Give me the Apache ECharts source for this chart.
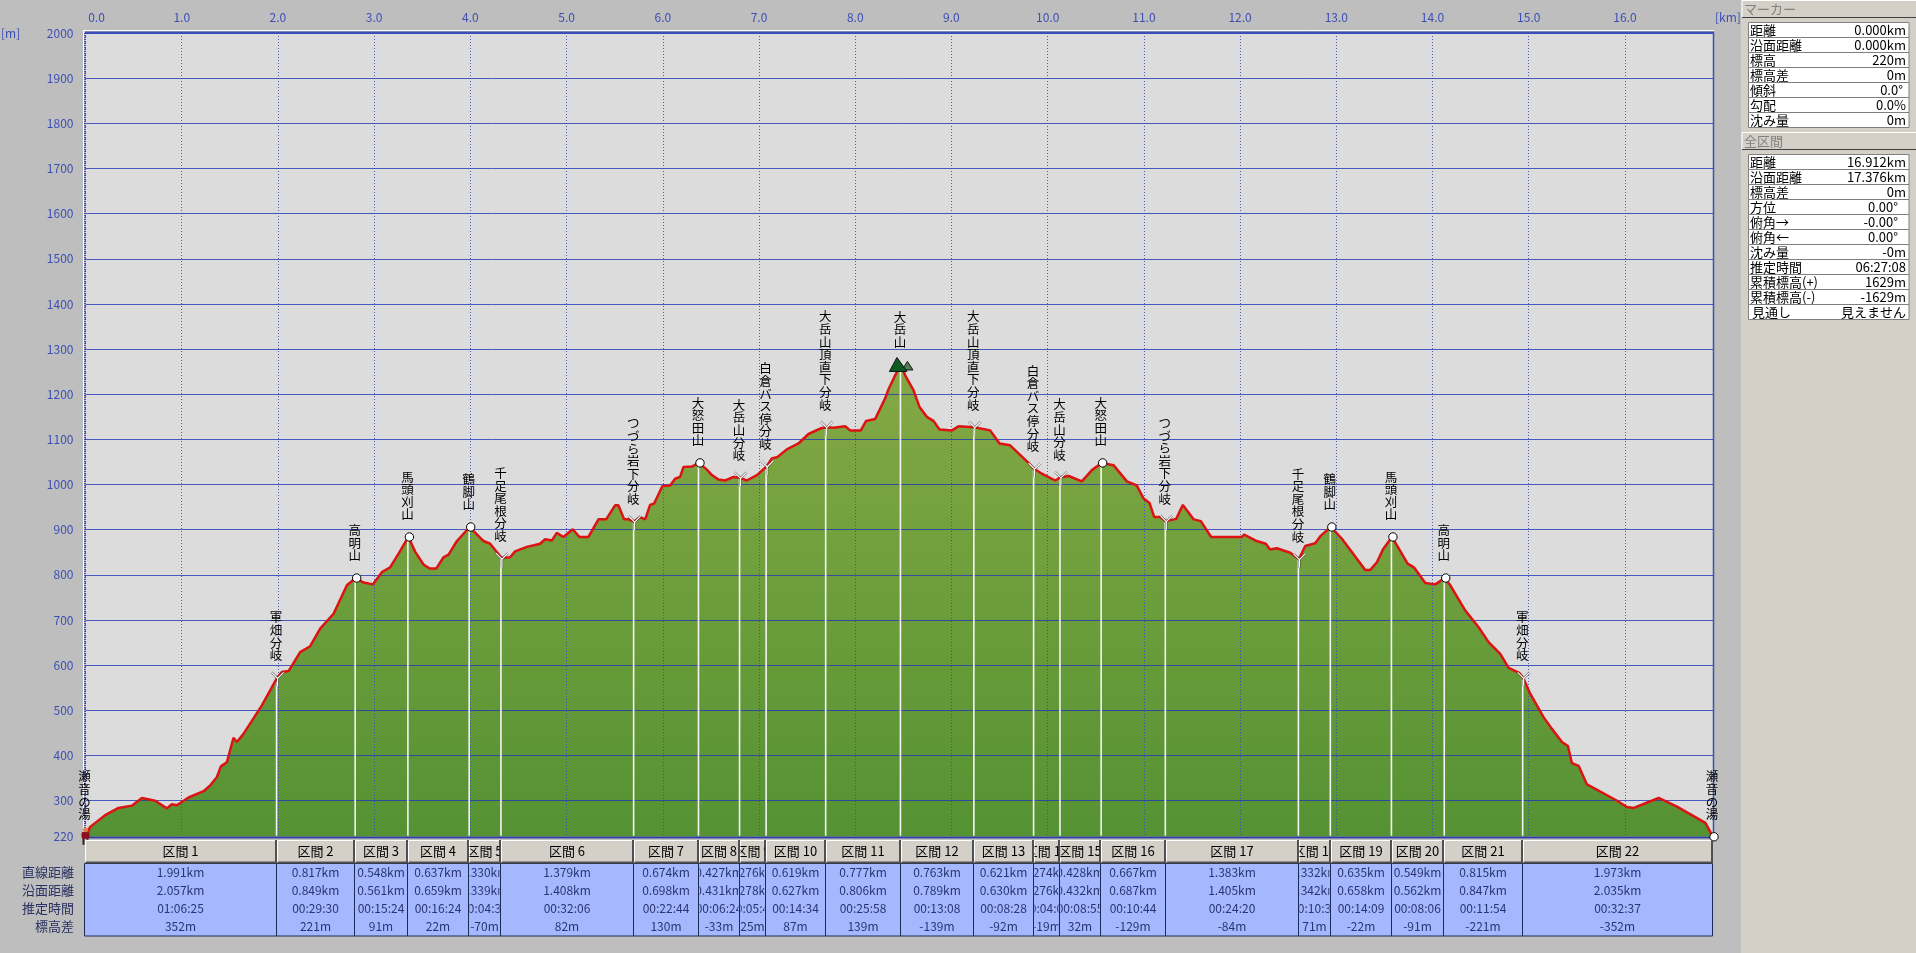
<!DOCTYPE html>
<html><head><meta charset="utf-8"><title>標高グラフ</title>
<style>html,body{margin:0;padding:0;background:#bebebe;overflow:hidden}#c{width:1916px;height:953px}</style>
<script src="https://cdn.jsdelivr.net/npm/echarts@6/dist/echarts.min.js"></script></head><body><div id="c"></div>
<script>
const profileKm=[0,.049,.204,.343,.482,.586,.724,.845,.897,.949,1.071,1.227,1.296,1.365,1.407,1.469,1.538,1.573,1.642,1.833,1.991,2.041,2.110,2.231,2.335,2.439,2.578,2.717,2.808,2.890,2.987,3.080,3.167,3.254,3.356,3.427,3.513,3.576,3.645,3.721,3.773,3.860,3.993,4.137,4.206,4.323,4.413,4.465,4.586,4.725,4.777,4.846,4.898,4.967,5.064,5.134,5.227,5.331,5.411,5.504,5.539,5.598,5.643,5.702,5.765,5.817,5.868,5.910,5.996,6.076,6.128,6.180,6.215,6.301,6.376,6.458,6.510,6.579,6.649,6.735,6.803,6.873,6.978,7.079,7.133,7.192,7.289,7.410,7.514,7.635,7.698,7.774,7.895,7.947,8.058,8.113,8.207,8.311,8.346,8.415,8.475,8.519,8.605,8.668,8.744,8.813,8.876,9.005,9.073,9.238,9.402,9.500,9.610,9.801,9.859,9.940,10.078,10.133,10.219,10.355,10.460,10.561,10.684,10.823,10.927,10.997,11.059,11.108,11.170,11.228,11.336,11.405,11.517,11.592,11.699,12.018,12.042,12.173,12.267,12.312,12.382,12.521,12.611,12.677,12.781,12.840,12.943,13.058,13.301,13.353,13.422,13.484,13.578,13.741,13.810,13.925,14.029,14.127,14.185,14.341,14.479,14.583,14.704,14.791,14.900,14.942,15.015,15.154,15.241,15.345,15.407,15.449,15.519,15.605,15.900,16.021,16.091,16.350,16.541,16.836,16.915];
const profileElev=[220,242,268,284,289,306,300,283,292,290,307,321,334,352,376,385,439,430,448,511,572,585,587,629,642,681,714,777,793,783,779,806,817,847,884,851,823,814,814,839,845,875,906,875,869,838,839,852,862,869,879,876,893,884,901,884,884,923,923,954,954,923,923,918,928,923,955,958,997,998,1013,1017,1039,1040,1048,1033,1021,1011,1009,1017,1015,1009,1021,1040,1058,1061,1078,1091,1112,1124,1127,1126,1129,1120,1120,1141,1145,1191,1211,1242,1266,1242,1209,1172,1150,1141,1122,1120,1129,1127,1120,1091,1087,1048,1035,1024,1009,1016,1019,1007,1032,1048,1043,1007,998,969,959,928,928,919,924,955,923,919,884,884,889,875,869,856,859,849,835,864,870,887,906,880,811,811,828,856,884,825,816,782,779,793,777,721,684,651,625,594,583,572,537,485,459,430,421,383,377,336,302,286,284,306,287,251,220];
const xTicks=[0,1,2,3,4,5,6,7,8,9,10,11,12,13,14,15,16];
const elevTicks=[220,300,400,500,600,700,800,900,1000,1100,1200,1300,1400,1500,1600,1700,1800,1900,2000];
const sectionNames=Array.from({length:22},(_,i)=>'区間 '+(i+1));
const straightDist=[1.991,.817,.548,.637,.330,1.379,.674,.427,.276,.619,.777,.763,.621,.274,.428,.667,1.383,.332,.635,.549,.815,1.973];
const surfaceDist=[2.057,.849,.561,.659,.339,1.408,.698,.431,.278,.627,.806,.789,.630,.276,.432,.687,1.405,.342,.658,.562,.847,2.035];
const estTime=['01:06:25','00:29:30','00:15:24','00:16:24','00:04:34','00:32:06','00:22:44','00:06:24','00:05:40','00:14:34','00:25:58','00:13:08','00:08:28','00:04:05','00:08:55','00:10:44','00:24:20','00:10:30','00:14:09','00:08:06','00:11:54','00:32:37'];
const elevDiff=[352,221,91,22,-70,82,130,-33,25,87,139,-139,-92,-19,32,-129,-84,71,-22,-91,-221,-352];
const waypointNames=['瀬音の湯','軍畑分岐','高明山','馬頭刈山','鶴脚山','千足尾根分岐','つづら岩下分岐','大怒田山','大岳山分岐','白倉バス停分岐','大岳山頂直下分岐','大岳山','大岳山頂直下分岐','白倉バス停分岐','大岳山分岐','大怒田山','つづら岩下分岐','千足尾根分岐','鶴脚山','馬頭刈山','高明山','軍畑分岐','瀬音の湯'];
const waypointKinds=['start','fork','peak','peak','peak','fork','fork','peak','fork','fork','fork','summit','fork','fork','fork','peak','fork','fork','peak','peak','peak','fork','peak'];
const rowLabels=['直線距離','沿面距離','推定時間','標高差'];
const markerLabels=['距離','沿面距離','標高','標高差','傾斜','勾配','沈み量'];
const markerValues=['0.000km','0.000km','220m','0m','0.0°','0.0%','0m'];
const totalLabels=['距離','沿面距離','標高差','方位','俯角→','俯角←','沈み量','推定時間','累積標高(+)','累積標高(-)','見通し'];
const totalValues=['16.912km','17.376km','0m','0.00°','-0.00°','0.00°','-0m','06:27:08','1629m','-1629m','見えません'];

const CJK='"Noto Sans CJK JP","Noto Sans",sans-serif';
const BLUE='#3d4fb4';
const kmPts=[0],elPts=[220];
straightDist.forEach((d,i)=>{kmPts.push(+(kmPts[i]+d).toFixed(3));elPts.push(elPts[i]+elevDiff[i]);});
const profile=profileKm.map((k,i)=>[k,profileElev[i]]);
const xMax=kmPts[kmPts.length-1];
const waypointData=kmPts.map((k,i)=>[k,elPts[i],i]);
const sectionData=sectionNames.map((n,i)=>[kmPts[i],kmPts[i+1],i]);

function panel(){
  const g=[];
  g.push({type:'rect',z:1,shape:{x:1741,y:0,width:175,height:953},style:{fill:'#d4d0c8'}});
  const btn=(y,t)=>{
    g.push({type:'rect',z:2,shape:{x:1742,y:y,width:174,height:18},style:{fill:'#d4d0c8',stroke:null}});
    g.push({type:'polyline',z:2,shape:{points:[[1742,y+17],[1742,y+.5],[1916,y+.5]]},style:{stroke:'#fff',fill:null,lineWidth:1}});
    g.push({type:'line',z:2,shape:{x1:1742,y1:y+17.5,x2:1916,y2:y+17.5},style:{stroke:'#404040',lineWidth:1}});
    g.push({type:'text',z:3,x:1744,y:y+9,style:{text:t,font:'13px '+CJK,fill:'#808080',verticalAlign:'middle'}});
  };
  const tbl=(y0,ls,vs)=>{
    ls.forEach((l,i)=>{
      const y=y0+i*15;
      g.push({type:'rect',z:2,shape:{x:1748.5,y:y+.5,width:160.5,height:15},style:{fill:'#fff',stroke:'#808080',lineWidth:1}});
      g.push({type:'text',z:3,x:l==='見通し'?1752:1750,y:y+8,style:{text:l,font:'13px '+CJK,fill:'#000',verticalAlign:'middle'}});
      const v=vs[i],off=v.endsWith('°')?(v.length>4?8:3):0;
      g.push({type:'text',z:3,x:1906-off,y:y+8,style:{text:v,font:'13px '+CJK,fill:'#000',align:'right',verticalAlign:'middle'}});
    });
  };
  btn(0,'マーカー');tbl(22,markerLabels,markerValues);
  btn(132,'全区間');tbl(154,totalLabels,totalValues);
  rowLabels.forEach((l,i)=>g.push({type:'text',z:3,x:74,y:[872.5,890.5,908.5,926.5][i],style:{text:l,font:'13px '+CJK,fill:'#2a3060',align:'right',verticalAlign:'middle'}}));
  g.push({type:'text',z:3,x:1,y:33,style:{text:'[m]',font:'12px '+CJK,fill:BLUE,verticalAlign:'middle'}});
  g.push({type:'text',z:3,x:1715,y:17,style:{text:'[km]',font:'12px '+CJK,fill:BLUE,verticalAlign:'middle'}});
  g.push({type:'polyline',z:3,shape:{points:[[83.5,838],[83.5,30.5],[1714,30.5]]},style:{stroke:'#fff',fill:null,lineWidth:1}});
  g.push({type:'line',z:3,shape:{x1:85,y1:32.5,x2:1714,y2:32.5},style:{stroke:BLUE,lineWidth:2}});
  g.push({type:'line',z:3,shape:{x1:85,y1:33,x2:85,y2:837},style:{stroke:BLUE,lineWidth:2,lineDash:[1,1]}});
  g.push({type:'line',z:3,shape:{x1:1713.5,y1:32,x2:1713.5,y2:838},style:{stroke:BLUE,lineWidth:1.5}});
  g.push({type:'line',z:3,shape:{x1:84,y1:837.5,x2:1714,y2:837.5},style:{stroke:'#46509c',lineWidth:2}});
  return g;
}

function renderSection(p,api){
  const i=api.value(2);
  const x0=Math.round(api.coord([api.value(0),220])[0]-1.3)+.5, x1=Math.round(api.coord([api.value(1),220])[0]-1.3)+.5;
  const w=x1-x0, cx=(x0+x1)/2, ch=[];
  ch.push({type:'rect',shape:{x:x0,y:863.5,width:w,height:72.5},style:{fill:'#a5b8ff',stroke:'#1c2a55',lineWidth:1}});
  ch.push({type:'rect',shape:{x:x0+1,y:840,width:w-1,height:23},style:{fill:'#d4d0c8'}});
  ch.push({type:'polyline',shape:{points:[[x0+1,863],[x0+1,840.5],[x1,840.5]]},style:{stroke:'#fff',fill:null,lineWidth:1}});
  ch.push({type:'polyline',shape:{points:[[x0+1,862.5],[x1-.5,862.5],[x1-.5,840]]},style:{stroke:'#505050',fill:null,lineWidth:2}});
  const clip=(h)=>({type:'rect',shape:{x:-w/2+1,y:-h/2,width:w-2,height:h}});
  ch.push({type:'text',x:cx,y:851.5,clipPath:clip(22),style:{text:sectionNames[i],font:'13px '+CJK,fill:'#000',align:'center',verticalAlign:'middle'}});
  const vals=[straightDist[i].toFixed(3)+'km',surfaceDist[i].toFixed(3)+'km',estTime[i],elevDiff[i]+'m'];
  vals.forEach((v,r)=>ch.push({type:'text',x:cx,y:[872.5,890.5,908.5,926.5][r],clipPath:clip(18),style:{text:v,font:'12px '+CJK,fill:'#2a3470',align:'center',verticalAlign:'middle'}}));
  return {type:'group',children:ch};
}
function renderStem(p,api){
  const i=api.value(2);
  if(i===0||i===kmPts.length-1)return null;
  const a=api.coord([api.value(0),api.value(1)]),b=api.coord([api.value(0),220]);
  return {type:'line',shape:{x1:a[0]-.5,y1:a[1],x2:a[0]-.5,y2:b[1]-1},style:{stroke:'#f4f4f4',lineWidth:1.6}};
}
function renderMarker(p,api){
  const i=api.value(2),k=waypointKinds[i];
  const c=api.coord([api.value(0),api.value(1)]),x=c[0],y=c[1],ch=[];
  if(k==='peak'){
    ch.push({type:'circle',shape:{cx:x+1,cy:y,r:4.2},style:{fill:'#fff',stroke:'#000',lineWidth:1}});
  }else if(k==='fork'){
    const yshape=(st)=>[
      {type:'polyline',shape:{points:[[x-5.5,y-5.5],[x+.5,y+.5],[x+6.5,y-5.5]]},style:st},
      {type:'line',shape:{x1:x+.5,y1:y+.5,x2:x+.5,y2:y+8.5},style:st}];
    yshape({stroke:'rgba(30,30,30,.55)',fill:null,lineWidth:2.4}).forEach(e=>ch.push(e));
    yshape({stroke:'#fff',fill:null,lineWidth:1.2}).forEach(e=>ch.push(e));
  }else if(k==='summit'){
    ch.push({type:'polygon',shape:{points:[[x+6.5,y-3],[x+1,y+5.5],[x+12,y+5.5]]},style:{fill:'#4f7f55',stroke:'#111',lineWidth:1}});
    ch.push({type:'polygon',shape:{points:[[x-4,y-7],[x-11.5,y+7],[x+6,y+7]]},style:{fill:'#0f5a23',stroke:'#111',lineWidth:1}});
  }else if(k==='start'){
    ch.push({type:'rect',shape:{x:x-3,y:y+1,width:2,height:7},style:{fill:'#2a2018'}});
    ch.push({type:'rect',shape:{x:x+1,y:y+1,width:2,height:7},style:{fill:'#5a4630'}});
    ch.push({type:'rect',shape:{x:x-4,y:y-5,width:8,height:7,r:2},style:{fill:'#8c1020'}});
    ch.push({type:'circle',shape:{cx:x,cy:y-7,r:2.5},style:{fill:'#e08050'}});
  }
  ch.push({type:'text',x:x-1,y:y-16,style:{text:waypointNames[i].split('').join('\n'),font:'12.5px '+CJK,lineHeight:12.6,fill:'#000',align:'center',verticalAlign:'bottom'}});
  return {type:'group',children:ch};
}

const chart=echarts.init(document.getElementById('c'),null,{renderer:'canvas'});
chart.setOption({
  animation:false,backgroundColor:'#bebebe',
  graphic:{elements:panel()},
  grid:{left:85.5,top:33,width:1627.5,height:803.8,show:true,backgroundColor:'#dcdcdc',borderWidth:0,containLabel:false},
  xAxis:{type:'value',position:'top',min:0,max:xMax,z:3,
    axisLine:{show:false},
    axisLabel:{customValues:xTicks,formatter:v=>v===0?' 0.0':v.toFixed(1),color:BLUE,fontFamily:CJK,fontSize:12,margin:10,alignMinLabel:'left'},
    axisTick:{show:false,customValues:xTicks},
    splitLine:{show:true,customValues:xTicks,lineStyle:{color:'#3048c0',width:1,type:[1,2],opacity:.85}}},
  yAxis:{type:'value',min:220,max:2000,z:3,
    axisLine:{show:false},
    axisTick:{show:false,customValues:elevTicks},
    axisLabel:{customValues:elevTicks,formatter:v=>String(v),color:BLUE,fontFamily:CJK,fontSize:12,margin:12},
    splitLine:{show:true,customValues:elevTicks,lineStyle:{color:'#2238b8',width:1,opacity:.8}}},
  series:[
    {type:'line',z:2,data:profile,symbol:'none',silent:true,clip:false,lineStyle:{width:0},
     areaStyle:{opacity:1,color:new echarts.graphic.LinearGradient(0,0,0,1,[{offset:0,color:'#84a944'},{offset:1,color:'#559233'}])}},
    {type:'custom',z:4,silent:true,data:waypointData,renderItem:renderStem,encode:{x:0,y:1}},
    {type:'line',z:5,data:profile,symbol:'none',silent:true,lineStyle:{color:'#dd1212',width:2.5}},
    {type:'custom',z:6,silent:true,data:waypointData,renderItem:renderMarker,encode:{x:0,y:1}},
    {type:'custom',z:6,silent:true,data:sectionData,renderItem:renderSection,encode:{x:[0,1]}}
  ]
});
</script></body></html>
